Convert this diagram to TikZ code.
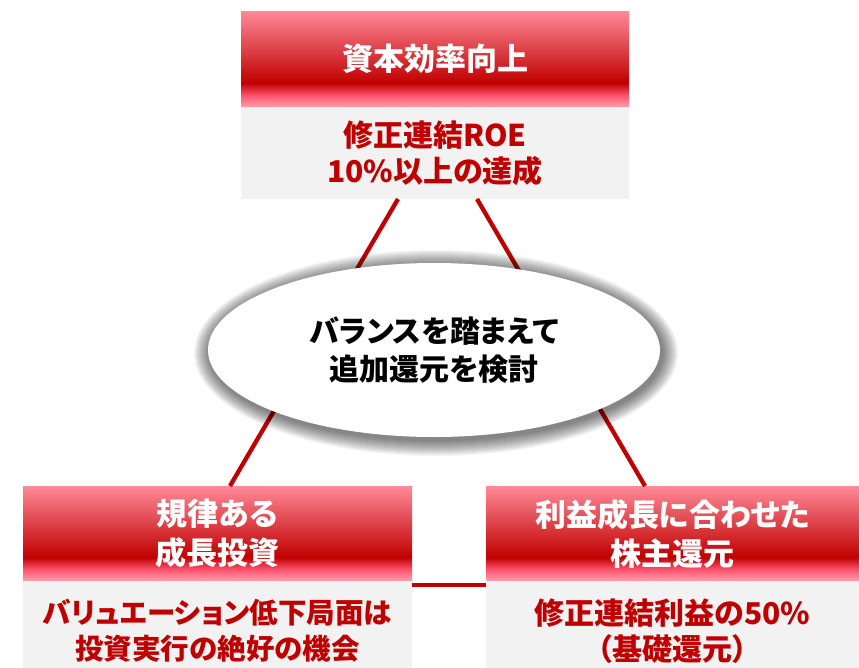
\documentclass[tikz,border=0pt]{standalone}
\usepackage{fontspec}
\newfontfamily\jpfont{Noto Sans CJK JP}[RawFeature=+palt]
\usetikzlibrary{positioning,shapes.geometric}

\definecolor{darkred}{RGB}{192,0,0}
\definecolor{pinktop}{RGB}{255,138,152}
\definecolor{pinkmid}{RGB}{255,84,112}
\definecolor{pinkbot}{RGB}{255,160,172}
\definecolor{boxgray}{RGB}{242,242,242}
\pgfdeclareverticalshading{headshade}{100bp}{color(0bp)=(pinkbot); color(25bp)=(pinkbot); color(31bp)=(pinkmid); color(37.5bp)=(darkred); color(75bp)=(pinktop); color(100bp)=(pinktop)}

\begin{document}
\begin{tikzpicture}[x=1pt,y=-1pt]

        % 定义样式
        \tikzstyle{headbox} = [rectangle, minimum height=95pt, inner sep=0pt, outer sep=0pt, align=center, text=white, shading=headshade, font=\jpfont\bfseries\fontsize{31}{39}\selectfont]
        \tikzstyle{bodybox} = [rectangle, minimum height=92pt, inner sep=0pt, outer sep=0pt, align=center, text=darkred, fill=boxgray, font=\jpfont\bfseries\fontsize{30}{36}\selectfont]
        \tikzstyle{balance} = [ellipse, minimum width=452pt, minimum height=174pt, inner sep=0pt, align=center, fill=white, font=\jpfont\bfseries\fontsize{30}{38}\selectfont]
        \tikzstyle{glow} = [fill=black, opacity=0.04]
        \tikzstyle{link} = [line width=4.3pt, draw=darkred]

        \useasboundingbox (0,0) rectangle (859,667);

        % 创建节点
        \node (tophead) [headbox, minimum width=388pt, minimum height=96pt] at (435,59) {資本効率向上};
        \node (topbody) [bodybox, minimum width=388pt, below=0pt of tophead] {修正連結ROE\\10\%以上の達成};
        \node (lefthead) [headbox, minimum width=389pt] at (217.5,533.5) {規律ある\\成長投資};
        \node (leftbody) [bodybox, minimum width=389pt, minimum height=100pt, below=0pt of lefthead, font=\jpfont\bfseries\fontsize{28.5}{36}\selectfont] {バリュエーション低下局面は\\投資実行の絶好の機会};
        \node (righthead) [headbox, minimum width=373pt] at (672.5,533.5) {利益成長に合わせた\\株主還元};
        \node (rightbody) [bodybox, minimum width=373pt, minimum height=100pt, below=0pt of righthead] {修正連結利益の50\%\\（基礎還元）};

        % 连接节点
        \draw [link] ([xshift=-37pt]topbody.south) -- ([xshift=12.5pt]lefthead.north);
        \draw [link] ([xshift=42pt]topbody.south) -- ([xshift=-27.5pt]righthead.north);
        \draw [link] ([yshift=-4pt]leftbody.north east) -- ([yshift=-4pt]rightbody.north west);

        % 椭圆与阴影
        \coordinate (mid) at (434,350);
        \foreach \r in {1,...,16}
            \fill [glow] ([xshift=2pt,yshift=-3pt]mid) ellipse [x radius=226+\r, y radius=87+\r];
        \node (center) [balance] at (mid) {バランスを踏まえて\\追加還元を検討};

    \end{tikzpicture}
\end{document}
